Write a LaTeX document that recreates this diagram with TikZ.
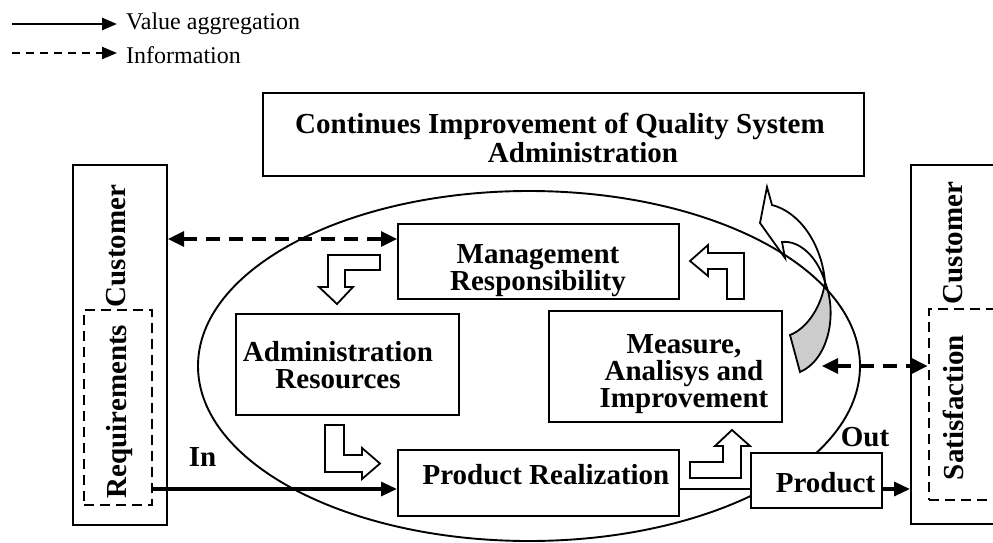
\documentclass[tikz,border=0pt]{standalone}
\usepackage{fontspec}
\setmainfont{Liberation Serif}
\usetikzlibrary{arrows.meta,positioning,shapes.geometric}

\begin{document}
\begin{tikzpicture}[x=1pt,y=-1pt, every node/.style={font=\fontsize{29}{27}\selectfont\bfseries,inner sep=0pt}, leg/.style={font=\fontsize{24}{26}\selectfont}, b/.style={draw,line width=2pt,fill=white}, db/.style={draw,line width=2.8pt,dash pattern=on 10pt off 6pt}, lbl/.style={align=center}, a/.style={-{Triangle[length=16pt,width=14pt]},line width=3.2pt}, inf/.style={{Triangle[length=16pt,width=15pt]}-{Triangle[length=16pt,width=15pt]},line width=3.2pt,dash pattern=on 14pt off 9pt}, blk/.style={draw,line width=1.8pt,fill=white,line join=miter}]
\useasboundingbox (0,0) rectangle (993,543);
\clip (0,0) rectangle (993,543);
% legend
\node[leg,anchor=west] (lval) at (126,24) {Value aggregation};
\node[leg,below=11.6pt of lval.south west,anchor=north west] (linfo) {Information};
\coordinate (lv) at (12,24); \coordinate (li) at (12,53);
\draw[-{Triangle[length=15pt,width=12pt]},line width=2.7pt,shorten >=9pt] (lv) -- (lv -| lval.west);
\draw[-{Triangle[length=15pt,width=12pt]},line width=2.1pt,dash pattern=on 8pt off 6pt,shorten >=9pt] (li) -- (li -| linfo.west);
% feedback arrow, twisted
\draw[line width=1.8pt,fill=gray!40] (825,282) .. controls (838,315) and (828,360) .. (800,372) -- (790,335) .. controls (808,328) and (822,305) .. (825,282) -- cycle;
\draw[line width=1.8pt] (767,187) -- (772,205) .. controls (800,212) and (822,245) .. (825,282) .. controls (818,258) and (800,240) .. (782,242) -- (785,258) -- (760,223) -- cycle;
% quality system
\node[draw,ellipse,line width=1.9pt,minimum width=662pt,minimum height=350pt] (qms) at (529,366) {};
\node[b,minimum width=601pt,minimum height=83pt] (cip) at (563.5,134.5) {};
\node[lbl,font=\fontsize{29}{29}\selectfont\bfseries] (ciplbl) at (560,137.5) {Continues Improvement of Quality System\\\hspace*{46pt}Administration};
\node[b,minimum width=281pt,minimum height=75pt] (mgmt) at (538.5,261.5) {};
\node[lbl] (mgmtlbl) at (538,271) {Management\\Responsibility};
\node[b,minimum width=223pt,minimum height=101pt] (adm) at (347.5,364.5) {};
\node[lbl] (admlbl) at (338,365) {Administration\\Resources};
\node[b,minimum width=233pt,minimum height=111pt] (meas) at (665.5,366.5) {};
\node[lbl] (measlbl) at (684,374) {Measure,\\Analisys and\\Improvement};
\node[b,minimum width=281pt,minimum height=66pt] (real) at (538.5,483) {};
\node[lbl] (reallbl) at (546,475) {Product Realization};
\node[b,minimum width=131pt,minimum height=55pt] (prod) at (816.5,480.5) {};
\node[lbl] (prodlbl) at (825.5,483) {Product};
% customers
\node[b,minimum width=94pt,minimum height=360pt] (custL) at (120,345) {};
\node[db,minimum width=68pt,minimum height=195pt] (reqbox) at (118,407.5) {};
\node[rotate=90] (custLlbl) at (116,246) {Customer};
\node[rotate=90] (reqlbl) at (119.4,411.5) {Requirements};
\node[b,minimum width=92pt,minimum height=359pt] (custR) at (957,344.5) {};
\node[db,minimum width=74pt,minimum height=191pt] (satbox) at (966,404.5) {};
\node[rotate=90] (custRlbl) at (953,243) {Customer};
\node[rotate=90] (satlbl) at (953,407.5) {Satisfaction};
% process steps
\draw[blk] (380,255) -- (328,255) -- (328,287) -- (319,287) -- (337,304) -- (353,287) -- (345,287) -- (345,270) -- (380,270) -- cycle;
\draw[blk] (325,425) -- (344,425) -- (344,455) -- (362,455) -- (362,448) -- (380,463.5) -- (362,479) -- (362,472) -- (325,472) -- cycle;
\draw[blk] (690,462) -- (723,462) -- (723,446) -- (715,446) -- (732,430) -- (750,446) -- (741,446) -- (741,478) -- (690,478) -- cycle;
\draw[blk] (727,299) -- (744,299) -- (744,253) -- (708,253) -- (708,245) -- (690,261) -- (708,276) -- (708,269) -- (727,269) -- cycle;
% flows
\coordinate (mgin) at ([yshift=-16pt]mgmt.north west);
\coordinate (realin) at ([yshift=-6pt]real.west);
\coordinate (msin) at (822,366);
\draw[inf] (custL.east |- mgin) -- (mgin); \draw[inf] (msin) -- (satbox.west |- msin);
\draw[a] (reqbox.east |- realin) -- (realin); \draw[line width=1.8pt] (real.east |- realin) -- (prod.west |- realin); \draw[a] (prod.east |- realin) -- (custR.west |- realin);
\node (inlbl) at (202.5,457) {In};
\node (outlbl) at (865,437) {Out};
\end{tikzpicture}
\end{document}
